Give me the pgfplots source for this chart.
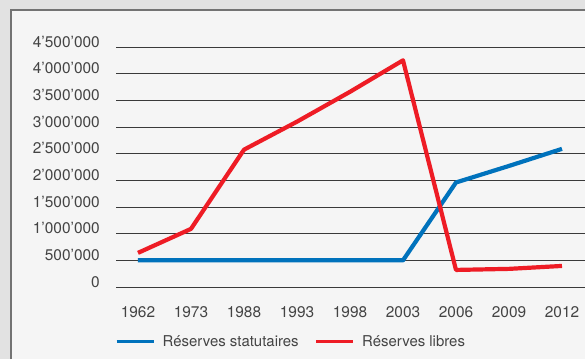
\documentclass[border=0pt]{standalone}
\usepackage{pgfplots}
\pgfplotsset{compat=1.18}
\usepackage{fontspec}
\setmainfont{TeX Gyre Heros}
\definecolor{txt}{HTML}{444444}
\definecolor{bl}{HTML}{0072BC}
\definecolor{rd}{HTML}{EE1C25}
\definecolor{gridc}{HTML}{3A3A3A}
\definecolor{outbg}{HTML}{E2E2E2}
\definecolor{inbg}{HTML}{F5F5F5}
\begin{document}
\begin{tikzpicture}[x=1bp,y=1bp]
\useasboundingbox (0,0) rectangle (585,359);
\fill[outbg] (0,0) rectangle (585,359);
\fill[inbg] (11,0) rectangle (585,349);
\draw[black!55, line width=1.4bp] (11,0) -- (11,349) -- (585,349);
\begin{axis}[
  at={(116bp,72bp)}, anchor=south west,
  scale only axis, width=469bp, height=240bp,
  xmin=-0.415, xmax=8.434, ymin=0, ymax=4500000,
  axis line style={draw=none},
  major tick length=0pt,
  xtick={0,...,8},
  xticklabels={1962,1973,1988,1993,1998,2003,2006,2009,2012},
  ytick={0,500000,...,4500000},
  yticklabels={0,500’000,1’000’000,1’500’000,2’000’000,2’500’000,3’000’000,3’500’000,4’000’000,4’500’000},
  scaled y ticks=false,
  xmajorgrids=false,
  ymajorgrids=true,
  major grid style={draw=gridc, line width=0.9bp},
  yticklabel style={anchor=base east, inner sep=0pt, xshift=-16bp, font=\fontsize{15.5}{18}\selectfont, text=txt},
  xticklabel style={anchor=base, inner sep=0pt, yshift=-30bp, font=\fontsize{15.5}{18}\selectfont, text=txt},
  legend columns=2,
  legend style={at={(0,0)}, anchor=north west, xshift=-1bp, yshift=-48bp, draw=none, fill=none, inner sep=0pt,
    font=\fontsize{15}{18}\selectfont, text=txt,
    /tikz/every even column/.append style={column sep=16bp},
    nodes={inner sep=0pt, anchor=base west}},
  legend cell align=left,
  legend image code/.code={\draw[#1, line width=3bp] (0bp,5bp) -- (37bp,5bp); \path[draw=none] (0,0) -- (46bp,0);},
  clip=false,
]
\addplot[bl, line width=4.2bp, line join=round] coordinates {(0,500000) (1,500000) (2,500000) (3,500000) (4,500000) (5,500000) (6,1960000) (7,2270000) (8,2590000)};
\addlegendentry{Réserves statutaires}
\addplot[rd, line width=4.2bp, line join=round] coordinates {(0,640000) (1,1090000) (2,2575000) (3,3100000) (4,3660000) (5,4250000) (6,320000) (7,340000) (8,395000)};
\addlegendentry{Réserves libres}
\end{axis}
\end{tikzpicture}
\end{document}
